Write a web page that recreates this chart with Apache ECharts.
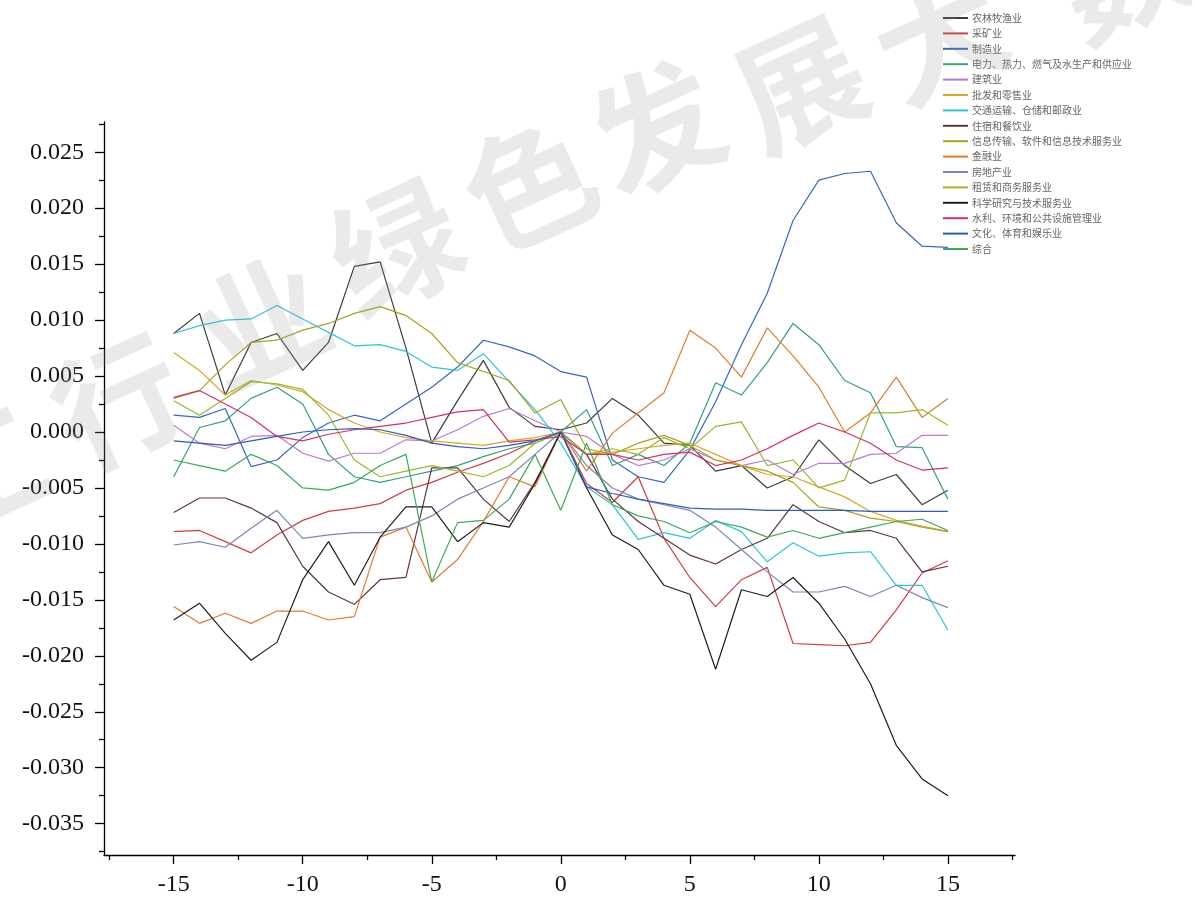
<!DOCTYPE html>
<html>
<head>
<meta charset="utf-8">
<script src="https://cdn.jsdelivr.net/npm/echarts@6/dist/echarts.min.js"></script>
<style>
  html, body { margin: 0; padding: 0; background: #ffffff; }
  #chart { width: 1195px; height: 900px; }
</style>
</head>
<body>
<div id="chart"></div>
<script>
// Event-window offsets (days relative to the event)
const offsets = [-15,-14,-13,-12,-11,-10,-9,-8,-7,-6,-5,-4,-3,-2,-1,0,1,2,3,4,5,6,7,8,9,10,11,12,13,14,15];

const industryNames = [
  '农林牧渔业', '采矿业', '制造业', '电力、热力、燃气及水生产和供应业', '建筑业',
  '批发和零售业', '交通运输、仓储和邮政业', '住宿和餐饮业', '信息传输、软件和信息技术服务业',
  '金融业', '房地产业', '租赁和商务服务业', '科学研究与技术服务业',
  '水利、环境和公共设施管理业', '文化、体育和娱乐业', '综合'
];

// Cumulative abnormal return per industry, one value per offset
const agriculture   = [0.0088,0.0106,0.0033,0.0080,0.0088,0.0055,0.0080,0.0148,0.0152,0.0075,-0.0010,0.0028,0.0064,0.0022,0.0005,0.0002,0.0008,0.0030,0.0015,-0.0010,-0.0012,-0.0035,-0.0030,-0.0050,-0.0040,-0.0007,-0.0030,-0.0046,-0.0038,-0.0065,-0.0052];
const mining        = [-0.0089,-0.0088,-0.0098,-0.0108,-0.0092,-0.0079,-0.0071,-0.0068,-0.0064,-0.0052,-0.0045,-0.0036,-0.0028,-0.0019,-0.0008,0.0000,-0.0046,-0.0063,-0.0040,-0.0095,-0.0130,-0.0156,-0.0132,-0.0121,-0.0189,-0.0190,-0.0191,-0.0188,-0.0159,-0.0126,-0.0115];
const manufacturing = [0.0015,0.0013,0.0021,-0.0031,-0.0025,-0.0005,0.0008,0.0015,0.0010,0.0025,0.0040,0.0058,0.0082,0.0076,0.0068,0.0054,0.0049,-0.0025,-0.0040,-0.0045,-0.0016,0.0027,0.0078,0.0124,0.0189,0.0225,0.0231,0.0233,0.0187,0.0166,0.0165];
const utilities     = [-0.0040,0.0004,0.0010,0.0030,0.0040,0.0025,-0.0020,-0.0040,-0.0045,-0.0040,-0.0035,-0.0030,-0.0022,-0.0015,-0.0010,0.0000,0.0020,-0.0030,-0.0020,-0.0030,-0.0010,0.0044,0.0033,0.0062,0.0097,0.0078,0.0046,0.0035,-0.0013,-0.0014,-0.0060];
const construction  = [0.0006,-0.0010,-0.0015,-0.0004,-0.0003,-0.0019,-0.0026,-0.0019,-0.0019,-0.0007,-0.0008,0.0002,0.0014,0.0021,0.0010,0.0000,-0.0004,-0.0020,-0.0030,-0.0025,-0.0015,-0.0025,-0.0030,-0.0025,-0.0038,-0.0028,-0.0028,-0.0020,-0.0019,-0.0003,-0.0003];
const retail        = [0.0071,0.0055,0.0033,0.0046,0.0042,0.0036,0.0020,0.0008,0.0000,-0.0005,-0.0008,-0.0010,-0.0012,-0.0008,-0.0005,0.0000,-0.0020,-0.0018,-0.0015,-0.0012,-0.0010,-0.0020,-0.0030,-0.0038,-0.0040,-0.0049,-0.0058,-0.0071,-0.0079,-0.0084,-0.0089];
const transport     = [0.0088,0.0095,0.0100,0.0101,0.0113,0.0101,0.0089,0.0077,0.0078,0.0072,0.0058,0.0055,0.0070,0.0045,0.0020,-0.0010,-0.0049,-0.0065,-0.0096,-0.0090,-0.0095,-0.0079,-0.0089,-0.0116,-0.0099,-0.0111,-0.0108,-0.0107,-0.0137,-0.0137,-0.0177];
const hospitality   = [-0.0072,-0.0059,-0.0059,-0.0068,-0.0081,-0.0120,-0.0143,-0.0154,-0.0132,-0.0130,-0.0032,-0.0032,-0.0060,-0.0080,-0.0045,0.0000,-0.0020,-0.0060,-0.0080,-0.0095,-0.0110,-0.0118,-0.0105,-0.0095,-0.0065,-0.0080,-0.0090,-0.0088,-0.0095,-0.0125,-0.0120];
const infoTech      = [0.0030,0.0037,0.0060,0.0080,0.0082,0.0091,0.0097,0.0106,0.0112,0.0104,0.0088,0.0062,0.0054,0.0046,0.0017,0.0029,-0.0015,-0.0020,-0.0010,-0.0003,-0.0012,-0.0025,-0.0030,-0.0035,-0.0045,-0.0067,-0.0070,-0.0077,-0.0080,-0.0085,-0.0089];
const finance       = [-0.0156,-0.0171,-0.0162,-0.0171,-0.0160,-0.0160,-0.0168,-0.0165,-0.0094,-0.0085,-0.0134,-0.0114,-0.0080,-0.0040,-0.0049,0.0000,-0.0035,-0.0001,0.0017,0.0035,0.0091,0.0075,0.0049,0.0093,0.0068,0.0040,0.0000,0.0017,0.0049,0.0013,0.0030];
const realEstate    = [-0.0101,-0.0098,-0.0103,-0.0086,-0.0070,-0.0095,-0.0092,-0.0090,-0.0090,-0.0085,-0.0075,-0.0060,-0.0050,-0.0040,-0.0020,0.0000,-0.0030,-0.0050,-0.0060,-0.0065,-0.0070,-0.0085,-0.0105,-0.0125,-0.0143,-0.0143,-0.0138,-0.0147,-0.0137,-0.0148,-0.0157];
const leasing       = [0.0028,0.0015,0.0030,0.0045,0.0043,0.0038,0.0015,-0.0025,-0.0040,-0.0035,-0.0030,-0.0035,-0.0040,-0.0030,-0.0010,0.0000,-0.0020,-0.0015,-0.0020,-0.0005,-0.0015,0.0005,0.0009,-0.0030,-0.0025,-0.0050,-0.0043,0.0017,0.0017,0.0020,0.0006];
const research      = [-0.0168,-0.0153,-0.0180,-0.0204,-0.0188,-0.0132,-0.0098,-0.0137,-0.0094,-0.0067,-0.0067,-0.0098,-0.0081,-0.0085,-0.0046,0.0000,-0.0050,-0.0092,-0.0105,-0.0137,-0.0145,-0.0212,-0.0141,-0.0147,-0.0130,-0.0153,-0.0185,-0.0225,-0.0280,-0.0310,-0.0325];
const waterEnv      = [0.0031,0.0037,0.0025,0.0013,-0.0004,-0.0008,-0.0002,0.0002,0.0005,0.0008,0.0013,0.0018,0.0020,-0.0009,-0.0007,-0.0004,-0.0020,-0.0020,-0.0025,-0.0020,-0.0018,-0.0030,-0.0025,-0.0015,-0.0003,0.0008,0.0000,-0.0010,-0.0025,-0.0034,-0.0032];
const culture       = [-0.0008,-0.0010,-0.0012,-0.0008,-0.0004,0.0000,0.0002,0.0003,0.0002,-0.0003,-0.0010,-0.0013,-0.0015,-0.0012,-0.0008,0.0000,-0.0049,-0.0055,-0.0060,-0.0064,-0.0068,-0.0069,-0.0069,-0.0070,-0.0070,-0.0070,-0.0070,-0.0071,-0.0071,-0.0071,-0.0071];
const composite     = [-0.0025,-0.0030,-0.0035,-0.0020,-0.0030,-0.0050,-0.0052,-0.0045,-0.0030,-0.0020,-0.0134,-0.0081,-0.0079,-0.0060,-0.0020,-0.0070,-0.0010,-0.0065,-0.0075,-0.0080,-0.0090,-0.0080,-0.0085,-0.0094,-0.0088,-0.0095,-0.0090,-0.0085,-0.0080,-0.0078,-0.0088];

const seriesValues = [agriculture, mining, manufacturing, utilities, construction, retail, transport,
  hospitality, infoTech, finance, realEstate, leasing, research, waterEnv, culture, composite];

const lineColors = ['#3c3c3c','#d43d3d','#3566c9','#34a27a','#b77ad6','#d9a62a','#2ec6d6','#5e3446',
  '#a9a21c','#e8792a','#7b87b5','#98ba2a','#1e1e1e','#d8305a','#2e5bbf','#3aab5a'];

// Tick positions
const xMajorTicks = [-15,-10,-5,0,5,10,15];
const xMinorTicks = [-17.5,-12.5,-7.5,-2.5,2.5,7.5,12.5,17.5];
const yMajorTicks = [-0.035,-0.030,-0.025,-0.020,-0.015,-0.010,-0.005,0,0.005,0.010,0.015,0.020,0.025];
const yMinorTicks = [-0.0375,-0.0325,-0.0275,-0.0225,-0.0175,-0.0125,-0.0075,-0.0025,0.0025,0.0075,0.0125,0.0175,0.0225,0.0275];

// Background caption characters and their centres
const captionChars = ['工','行','业','绿','色','发','展','大','数'];
const captionCentres = [[-20,470],[118,402],[262,322],[396,248],[530,184],[656,128],[800,84],[940,36],[1120,-26]];

const X_MIN = -17.7, X_MAX = 17.6, Y_MIN = -0.0378, Y_MAX = 0.0277;
const tickFont = { fontFamily: 'Liberation Serif', fontSize: 24, color: '#111' };

const chart = echarts.init(document.getElementById('chart'), null, { renderer: 'canvas' });

const series = seriesValues.map((vals, i) => ({
  name: industryNames[i],
  type: 'line',
  xAxisIndex: 0,
  yAxisIndex: 0,
  data: vals.map((v, k) => [offsets[k], v]),
  showSymbol: false,
  symbol: 'none',
  lineStyle: { width: 1.2, color: lineColors[i] },
  itemStyle: { color: lineColors[i] },
  animation: false,
  z: 2
}));

const option = {
  backgroundColor: '#ffffff',
  animation: false,
  grid: { left: 104, right: 180, top: 122, bottom: 45, containLabel: false },
  legend: {
    orient: 'vertical',
    left: 943,
    top: 12,
    padding: 0,
    icon: 'rect',
    itemWidth: 25,
    itemHeight: 2,
    itemGap: 3.4,
    textStyle: { fontFamily: 'Noto Sans CJK SC', fontSize: 10, lineHeight: 12, color: '#666', padding: [0,0,0,-1] },
    data: industryNames
  },
  xAxis: [
    {
      type: 'value', min: X_MIN, max: X_MAX,
      axisLine: { onZero: false, lineStyle: { color: '#000', width: 1.3 } },
      axisTick: { inside: false, length: 9, customValues: xMajorTicks, lineStyle: { color: '#000', width: 1.3 } },
      axisLabel: { customValues: xMajorTicks, margin: 18, ...tickFont, formatter: v => String(v) },
      splitLine: { show: false }
    },
    {
      type: 'value', min: X_MIN, max: X_MAX, position: 'bottom',
      axisLine: { show: false, onZero: false },
      axisTick: { inside: false, length: 5, customValues: xMinorTicks, lineStyle: { color: '#000', width: 1.3 } },
      axisLabel: { show: false },
      splitLine: { show: false }
    }
  ],
  yAxis: [
    {
      type: 'value', min: Y_MIN, max: Y_MAX,
      axisLine: { show: true, onZero: false, lineStyle: { color: '#000', width: 1.3 } },
      axisTick: { show: true, inside: false, length: 9, customValues: yMajorTicks, lineStyle: { color: '#000', width: 1.3 } },
      axisLabel: { customValues: yMajorTicks, margin: 20, ...tickFont, formatter: v => v.toFixed(3) },
      splitLine: { show: false }
    },
    {
      type: 'value', min: Y_MIN, max: Y_MAX, position: 'left',
      axisLine: { show: false, onZero: false },
      axisTick: { show: true, inside: false, length: 5, customValues: yMinorTicks, lineStyle: { color: '#000', width: 1.3 } },
      axisLabel: { show: false },
      splitLine: { show: false }
    }
  ],
  graphic: captionChars.map((ch, i) => ({
    type: 'text',
    x: captionCentres[i][0],
    y: captionCentres[i][1],
    rotation: 0.43,
    z: 100,
    silent: true,
    style: {
      text: ch,
      fontFamily: 'Noto Sans CJK SC',
      fontWeight: 'bold',
      fontSize: 128,
      fill: 'rgba(150,150,150,0.2)',
      align: 'center',
      verticalAlign: 'middle'
    }
  })),
  series: series
};

chart.setOption(option);
</script>
</body>
</html>
